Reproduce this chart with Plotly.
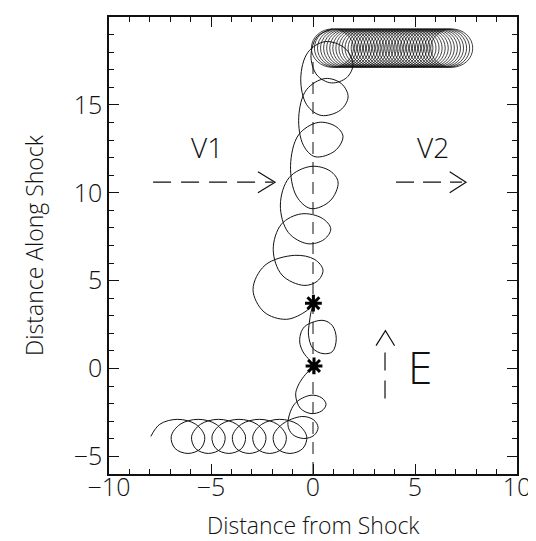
import plotly.graph_objects as go

# ---------------- data ----------------
# segment 1: upstream gyrations (8 waypoints each) up to the first asterisk
seg1_x = [-7.95, -7.51,
          -6.63, -5.75, -5.31, -5.50, -6.13, -6.76, -6.95, -6.51,
          -5.63, -4.75, -4.31, -4.50, -5.13, -5.76, -5.95, -5.51,
          -4.63, -3.75, -3.31, -3.50, -4.13, -4.76, -4.95, -4.51,
          -3.63, -2.75, -2.31, -2.50, -3.13, -3.76, -3.95, -3.51,
          -2.63, -1.75, -1.31, -1.50, -2.13, -2.76, -2.95, -2.51,
          -1.63, -0.75, -0.31, -0.50, -1.13, -1.76, -1.95, -1.51,
          -0.55, 0.02, 0.25, 0.05, -0.45, -1.00, -1.23, -0.90,
          -0.10, 0.43, 0.64, 0.43, -0.10, -0.63, -0.85,
          -0.74, -0.45, 0.05]
seg1_y = [-3.86, -3.17,
          -2.89, -3.17, -3.86, -4.55, -4.83, -4.55, -3.86, -3.17,
          -2.89, -3.17, -3.86, -4.55, -4.83, -4.55, -3.86, -3.17,
          -2.89, -3.17, -3.86, -4.55, -4.83, -4.55, -3.86, -3.17,
          -2.89, -3.17, -3.86, -4.55, -4.83, -4.55, -3.86, -3.17,
          -2.89, -3.17, -3.86, -4.55, -4.83, -4.55, -3.86, -3.17,
          -2.89, -3.17, -3.86, -4.55, -4.83, -4.55, -3.86, -3.17,
          -2.73, -2.91, -3.35, -3.80, -3.98, -3.75, -3.20, -2.01,
          -1.52, -1.67, -2.04, -2.41, -2.56, -2.25, -1.50,
          -1.00, -0.45, 0.15]

# segment 2: between the two asterisks
seg2_x = [0.05, -0.15, -0.49, -0.65, -0.57, -0.33,
          0.49, 0.95, 1.14, 0.95, 0.49, -0.01, -0.22, -0.18, -0.10, 0.02]
seg2_y = [0.15, 0.45, 0.95, 1.51, 2.10, 2.46,
          2.74, 2.44, 1.70, 0.96, 0.85, 1.15, 1.90, 2.60, 3.20, 3.72]

# segment 3: from the second asterisk up the shock to the transmitted loops
seg3_x = [0.02, -0.30, -1.30, -2.40, -2.94, -2.35,
          -0.90, 0.09, 0.49, 0.22, -0.45, -1.52, -1.95, -1.55,
          -0.57, 0.45, 0.87, 0.55, -0.25, -1.21, -1.60, -1.17,
          -0.10, 0.84, 1.23, 0.84, -0.10, -0.81, -1.10, -0.71,
          0.25, 1.12, 1.47, 1.07, 0.10, -0.47, -0.70, -0.32,
          0.60, 1.40, 1.72, 1.34, 0.40, -0.31, -0.60, -0.25,
          0.60, 1.57, 1.96, 1.65, 0.90, 0.19, -0.10, 0.20,
          0.95]
seg3_y = [3.72, 3.30, 2.80, 3.22, 4.50, 5.88,
          6.44, 6.20, 5.60, 4.98, 4.73, 5.32, 6.77, 8.21,
          8.80, 8.55, 7.95, 7.35, 7.10, 7.74, 9.30, 10.86,
          11.50, 11.24, 10.60, 9.54, 9.10, 9.81, 11.55, 13.29,
          14.00, 13.77, 13.20, 12.38, 12.05, 12.70, 14.30, 15.86,
          16.50, 16.20, 15.45, 14.70, 14.40, 15.01, 16.50, 17.99,
          18.60, 18.22, 17.30, 16.55, 16.25, 16.70, 17.80, 18.88,
          19.32]

# transmitted (downstream) gyration loops: centre x, centre y, radii
down_cx = [0.95, 1.10, 1.25, 1.40, 1.55, 1.70, 1.85, 2.00, 2.15, 2.30,
           2.45, 2.60, 2.75, 2.90, 3.05, 3.20, 3.35, 3.50, 3.65, 3.80,
           3.95, 4.10, 4.25, 4.40, 4.55, 4.70, 4.85, 5.00, 5.15, 5.30,
           5.45, 5.60, 5.75, 5.90, 6.05, 6.20, 6.35, 6.50, 6.65, 6.80]
down_cy = 18.23
down_rx = 1.03
down_ry = 1.09

# markers (asterisks)
star_x = [0.05, 0.02]
star_y = [0.15, 3.72]

# shock line
shock_line_x = [0.0, 0.0]
shock_line_y = [-6.0, 17.5]

# arrows
v1_x = [-7.84, -1.95]
v1_y = [10.6, 10.6]
v1_head_x = [-2.70, -1.86, -2.70]
v1_head_y = [11.2, 10.6, 10.0]
v2_x = [4.07, 7.3]
v2_y = [10.6, 10.6]
v2_head_x = [6.7, 7.5, 6.7]
v2_head_y = [11.2, 10.6, 10.0]
e_x = [3.53, 3.53]
e_y = [-1.70, 1.00]
e_head_x = [3.09, 3.55, 4.00]
e_head_y = [1.30, 2.16, 1.30]

labels = [("V1", -5.2, 12.6, 28), ("V2", 5.9, 12.6, 28), ("E", 5.25, 0.06, 44)]

x_ticks = [-10, -5, 0, 5, 10]
y_ticks = [-5, 0, 5, 10, 15, 20]
x_title = "Distance from Shock"
y_title = "Distance Along Shock"

FONT = "Open Sans"
WEIGHT = 300
INK = "#111111"

fig = go.Figure()

for sx, sy in [(seg1_x, seg1_y), (seg2_x, seg2_y), (seg3_x, seg3_y)]:
    fig.add_trace(go.Scatter(x=sx, y=sy, mode="lines",
                             line=dict(color=INK, width=1, shape="spline", smoothing=1.0),
                             hoverinfo="skip"))

for cx in down_cx:
    fig.add_shape(type="circle", xref="x", yref="y",
                  x0=cx - down_rx, x1=cx + down_rx,
                  y0=down_cy - down_ry, y1=down_cy + down_ry,
                  line=dict(color=INK, width=0.8))

fig.add_trace(go.Scatter(x=shock_line_x, y=shock_line_y, mode="lines",
                         line=dict(color=INK, width=1, dash="12px,8px"), hoverinfo="skip"))

for xs, ys, dash in [(v1_x, v1_y, "18px,10px"), (v2_x, v2_y, "18px,9px"), (e_x, e_y, "18px,10px")]:
    fig.add_trace(go.Scatter(x=xs, y=ys, mode="lines",
                             line=dict(color=INK, width=1.2, dash=dash), hoverinfo="skip"))
for xs, ys in [(v1_head_x, v1_head_y), (v2_head_x, v2_head_y), (e_head_x, e_head_y)]:
    fig.add_trace(go.Scatter(x=xs, y=ys, mode="lines",
                             line=dict(color=INK, width=1.2), hoverinfo="skip"))

fig.add_trace(go.Scatter(x=star_x, y=star_y, mode="markers",
                         marker=dict(symbol="asterisk-open", size=14, color="black",
                                     line=dict(color="black", width=3)),
                         hoverinfo="skip"))

for txt, tx, ty, fs in labels:
    fig.add_annotation(x=tx, y=ty, text=txt, showarrow=False,
                       font=dict(family=FONT, size=fs, color=INK, weight=WEIGHT))

tickfont = dict(family=FONT, size=25, color=INK, weight=WEIGHT)
titlefont = dict(family=FONT, size=23, color=INK, weight=WEIGHT)

# x-axis title placed just below the tick labels
fig.add_annotation(xref="paper", yref="paper", x=0.5, y=-0.112, yanchor="middle",
                   text=x_title, showarrow=False, font=titlefont, borderpad=0)

axis_common = dict(showgrid=False, zeroline=False, showline=True, linecolor=INK,
                   linewidth=1.5, mirror="allticks", ticks="inside", ticklen=10,
                   tickwidth=1.2, tickcolor=INK,
                   minor=dict(ticks="inside", ticklen=5, dtick=1, tickwidth=1,
                              tickcolor=INK, showgrid=False),
                   tickfont=tickfont)

fig.update_xaxes(range=[-10, 10], tickvals=x_ticks,
                 ticktext=[("\u2212" + str(-v)) if v < 0 else str(v) for v in x_ticks],
                 ticklabelstandoff=-10,
                 **axis_common)
fig.update_yaxes(range=[-6, 20], tickvals=y_ticks,
                 ticktext=[("\u2212" + str(-v)) if v < 0 else str(v) for v in y_ticks],
                 title=dict(text=y_title, font=titlefont, standoff=24),
                 **axis_common)

fig.update_layout(width=536, height=541, showlegend=False,
                  margin=dict(l=101, r=27, t=7, b=75),
                  paper_bgcolor="white", plot_bgcolor="white")

fig.write_html("out.html")
